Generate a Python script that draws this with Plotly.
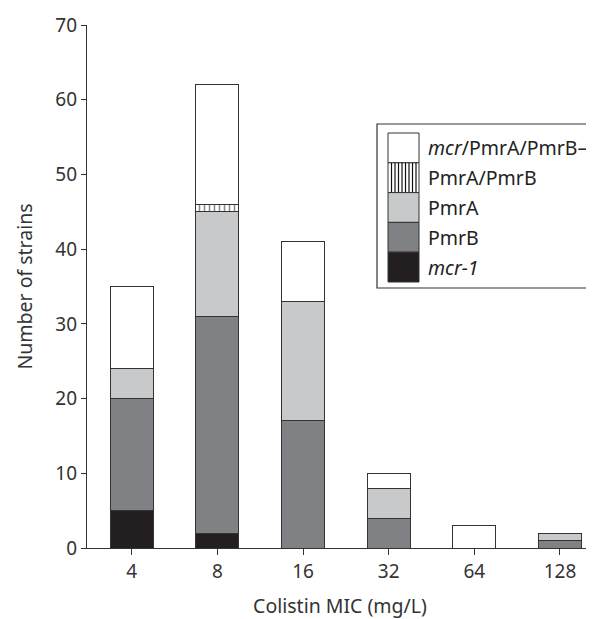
import plotly.graph_objects as go

categories = ["4", "8", "16", "32", "64", "128"]
mcr1 = [5, 2, 0, 0, 0, 0]
pmrB = [15, 29, 17, 4, 0, 1]
pmrA = [4, 14, 16, 4, 0, 1]
pmrA_pmrB = [0, 1, 0, 0, 0, 0]
mcr_neg = [11, 16, 8, 2, 3, 0]

series = [
    ("<i>mcr-1</i>", mcr1, "#231f20", None),
    ("PmrB", pmrB, "#808184", None),
    ("PmrA", pmrA, "#c8c9cb", None),
    ("PmrA/PmrB", pmrA_pmrB, "#ffffff", "|"),
    ("<i>mcr</i>/PmrA/PmrB–", mcr_neg, "#ffffff", None),
]

FONT = "Noto Sans"
OFF = 8  # page body margin offset
W, H = 594 - OFF, 619 - OFF
AX_L, AX_R, AX_T, AX_B = 87, 593, 25, 548  # plot area in window pixels
ML, MT = AX_L - OFF, AX_T - OFF
PW, PH = AX_R - AX_L, AX_B - AX_T
MR, MB = W - ML - PW, H - MT - PH

fig = go.Figure()
for name, vals, color, pat in series:
    marker = dict(color=color, line=dict(color="#333333", width=1))
    if pat:
        marker["pattern"] = dict(shape=pat, fgcolor="#111111", bgcolor="#ffffff",
                                 size=5, solidity=0.3)
    fig.add_trace(go.Bar(x=categories, y=vals, name=name, marker=marker,
                         width=0.5, showlegend=False))


def px_x(x):
    return (x - AX_L) / PW


def px_y(y):
    return (AX_B - y) / PH


shapes = []
annotations = []
# legend box
shapes.append(dict(type="rect", xref="paper", yref="paper",
                   x0=px_x(377), x1=px_x(592), y0=px_y(288), y1=px_y(124),
                   line=dict(color="#333333", width=1.2), fillcolor="white"))
row_h = 29.8
top = 133
for i, (name, vals, color, pat) in enumerate(reversed(series)):
    y0 = top + i * row_h
    y1 = y0 + row_h
    shapes.append(dict(type="rect", xref="paper", yref="paper",
                       x0=px_x(388), x1=px_x(419), y0=px_y(y1), y1=px_y(y0),
                       line=dict(color="#333333", width=1), fillcolor=color))
    if pat:
        xx = 388 + 3.5
        while xx < 418.5:
            shapes.append(dict(type="line", xref="paper", yref="paper",
                               x0=px_x(xx), x1=px_x(xx), y0=px_y(y1), y1=px_y(y0),
                               line=dict(color="#111111", width=1.2)))
            xx += 3.5
    annotations.append(dict(xref="paper", yref="paper", x=px_x(426),
                            y=px_y((y0 + y1) / 2), text=name, showarrow=False,
                            xanchor="left", yanchor="middle",
                            font=dict(family=FONT, size=19.5, color="#222222")))

fig.update_layout(
    barmode="stack",
    width=W, height=H,
    margin=dict(l=ML, r=MR, t=MT, b=MB),
    plot_bgcolor="white", paper_bgcolor="white",
    font=dict(family=FONT, size=19, color="#333333"),
    shapes=shapes, annotations=annotations,
    xaxis=dict(
        range=[-0.522, 5.386], showgrid=False, zeroline=False,
        showline=True, linecolor="#333333", linewidth=1.2,
        ticks="outside", ticklen=6, tickcolor="#333333",
        tickfont=dict(size=19, family=FONT, color="#333333"),
        title=dict(text="Colistin MIC (mg/L)", font=dict(size=19.5, family=FONT),
                   standoff=16),
    ),
    yaxis=dict(
        range=[0, 70], dtick=10, showgrid=False, zeroline=False,
        showline=True, linecolor="#333333", linewidth=1.2,
        ticks="outside", ticklen=5, tickcolor="#333333",
        tickfont=dict(size=19, family=FONT, color="#333333"),
        title=dict(text="Number of strains", font=dict(size=19.5, family=FONT),
                   standoff=17),
    ),
)

fig.write_html("out.html")
